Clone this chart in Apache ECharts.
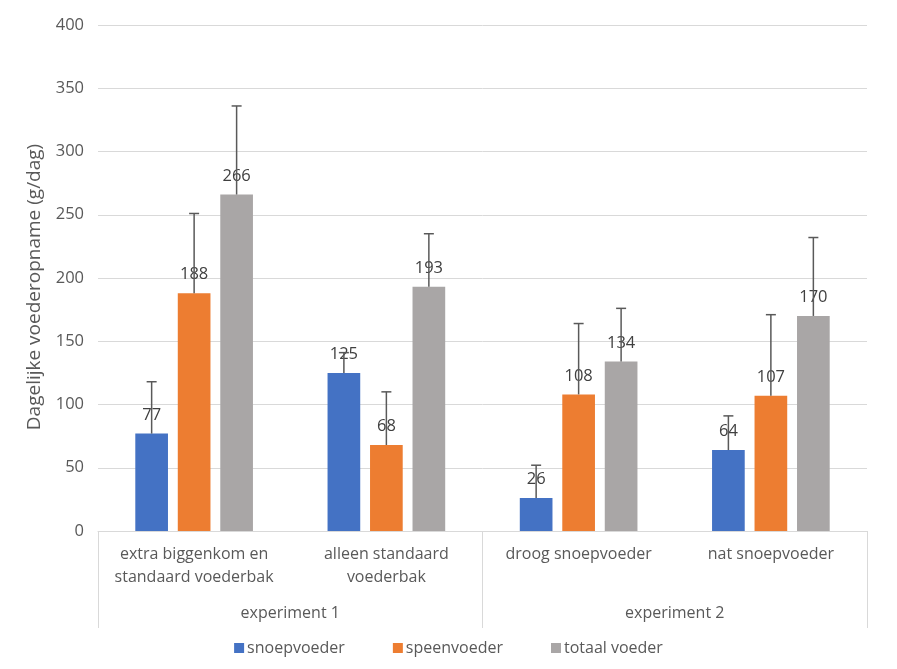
<!DOCTYPE html>
<html><head><meta charset="utf-8">
<script src="https://cdn.jsdelivr.net/npm/echarts@6/dist/echarts.min.js"></script>
<style>html,body{margin:0;padding:0;background:#fff}#c{width:897px;height:669px}</style>
</head><body><div id="c"></div>
<script>
const categories = ['extra biggenkom en\nstandaard voederbak', 'alleen standaard\nvoederbak', 'droog snoepvoeder', 'nat snoepvoeder'];
const groups = ['experiment 1', 'experiment 2'];
const seriesNames = ['snoepvoeder', 'speenvoeder', 'totaal voeder'];
const snoepvoeder = [77, 125, 26, 64];
const speenvoeder = [188, 68, 108, 107];
const totaalVoeder = [266, 193, 134, 170];
const snoepErr = [41, 16, 26, 27];
const speenErr = [63, 42, 56, 64];
const totaalErr = [70, 42, 42, 62];
const yTicks = [0, 50, 100, 150, 200, 250, 300, 350, 400];

const colors = ['#4472C4', '#ED7D31', '#A9A6A6'];
const values = [snoepvoeder, speenvoeder, totaalVoeder];
const errs = [snoepErr, speenErr, totaalErr];
const BW = 0.17, GAP = 0.30;
const txt = '#595959';
const font = 'Open Sans';

const errData = [];
values.forEach((arr, s) => arr.forEach((v, i) => errData.push([i, v, v + errs[s][i], s])));

const chart = echarts.init(document.getElementById('c'));
chart.setOption({
  animation: false,
  textStyle: { fontFamily: font },
  color: colors,
  grid: { left: 98, right: 30, top: 25, bottom: 138 },
  legend: {
    bottom: 8, left: 'center', itemWidth: 10, itemHeight: 10, itemGap: 48,
    icon: 'rect',
    textStyle: { color: txt, fontSize: 16, fontFamily: font, padding: [0, 0, 0, -2] },
    data: seriesNames
  },
  xAxis: [{
    type: 'category', data: categories,
    axisLine: { lineStyle: { color: '#D9D9D9' } },
    axisTick: { show: false },
    axisLabel: { color: txt, fontSize: 16, lineHeight: 23, margin: 12, interval: 0 }
  }, {
    type: 'category', data: groups, position: 'bottom', offset: 97,
    axisLine: { show: false },
    axisTick: { show: true, inside: true, length: 97, interval: 0, lineStyle: { color: '#D9D9D9' } },
    axisLabel: { inside: true, color: txt, fontSize: 16, margin: 7 }
  }],
  yAxis: {
    type: 'value', min: 0, max: 400, interval: 50,
    name: 'Dagelijke voederopname (g/dag)', nameLocation: 'middle', nameGap: 54,
    nameTextStyle: { color: txt, fontSize: 19, padding: [0, 18, 0, 0] },
    axisLine: { show: false }, axisTick: { show: false },
    axisLabel: { color: txt, fontSize: 16.5, margin: 14, formatter: v => yTicks.includes(v) ? String(v) : '' },
    splitLine: { lineStyle: { color: '#D9D9D9' } }
  },
  series: values.map((arr, s) => ({
    name: seriesNames[s], type: 'bar', data: arr, barWidth: (BW * 100) + '%', barGap: (GAP * 100) + '%',
    itemStyle: { color: colors[s] },
    label: { show: true, position: 'top', distance: 10, color: '#404040', fontSize: 16.5 }
  })).concat([{
    type: 'custom', name: 'err', data: errData, z: 10, silent: true,
    encode: { x: 0, y: [1, 2] },
    renderItem: function (params, api) {
      const cat = api.value(0), lo = api.value(1), hi = api.value(2), s = api.value(3);
      const cw = api.size([1, 0])[0];
      const bw = cw * BW;
      const cx = api.coord([cat, lo])[0] + (s - 1) * bw * (1 + GAP);
      const y0 = api.coord([cat, lo])[1], y1 = api.coord([cat, hi])[1];
      const st = { stroke: '#595959', lineWidth: 1.5 };
      return { type: 'group', children: [
        { type: 'line', shape: { x1: cx, y1: y0, x2: cx, y2: y1 }, style: st },
        { type: 'line', shape: { x1: cx - 5, y1: y1, x2: cx + 5, y2: y1 }, style: st }
      ]};
    }
  }])
});
</script></body></html>
